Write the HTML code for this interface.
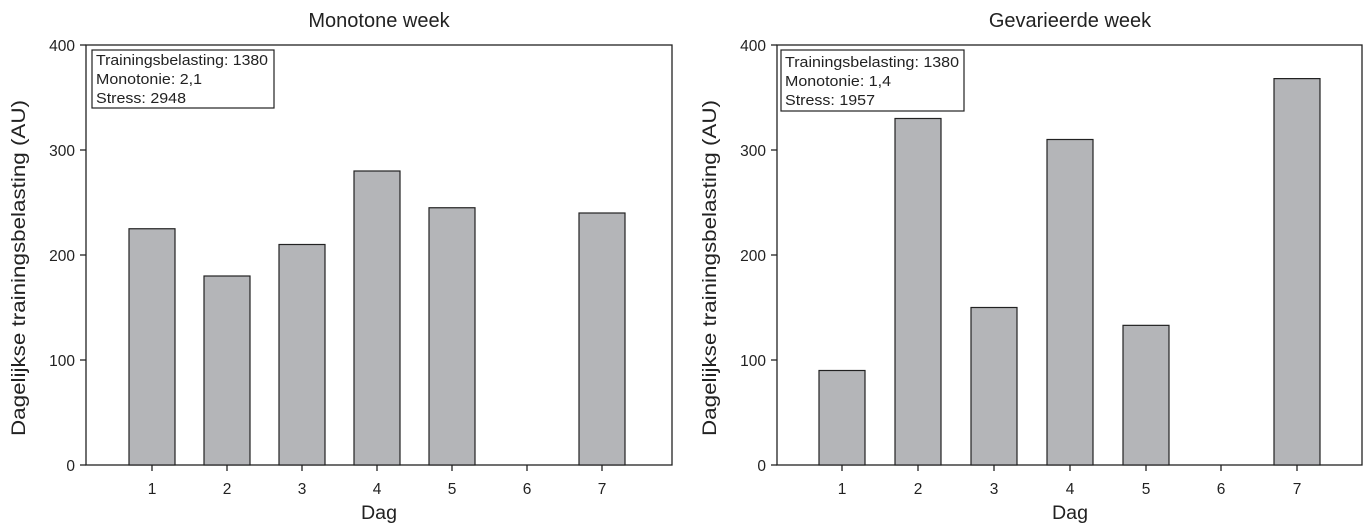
<!DOCTYPE html>
<html><head><meta charset="utf-8"><style>
body{margin:0;background:#fff}
svg{display:block}
text{font-family:"Liberation Sans",Arial,sans-serif;fill:#222}
</style></head><body>
<svg width="1363" height="526" viewBox="0 0 1363 526" xmlns="http://www.w3.org/2000/svg">
<g id="L">
<text x="379" y="27" font-size="20" text-anchor="middle">Monotone week</text>
<rect x="86" y="45" width="586" height="420" fill="none" stroke="#222" stroke-width="1.3"/>
<g stroke="#222" stroke-width="1.3">
<line x1="80" y1="45" x2="86" y2="45"/><line x1="80" y1="150" x2="86" y2="150"/><line x1="80" y1="255" x2="86" y2="255"/><line x1="80" y1="360" x2="86" y2="360"/><line x1="80" y1="465" x2="86" y2="465"/>
<line x1="152" y1="465" x2="152" y2="471"/><line x1="227" y1="465" x2="227" y2="471"/><line x1="302" y1="465" x2="302" y2="471"/><line x1="377" y1="465" x2="377" y2="471"/><line x1="452" y1="465" x2="452" y2="471"/><line x1="527" y1="465" x2="527" y2="471"/><line x1="602" y1="465" x2="602" y2="471"/>
</g>
<g font-size="15.5" text-anchor="end">
<text x="75" y="51">400</text><text x="75" y="156">300</text><text x="75" y="261">200</text><text x="75" y="366">100</text><text x="75" y="471">0</text>
</g>
<g font-size="15.5" text-anchor="middle">
<text x="152" y="494">1</text><text x="227" y="494">2</text><text x="302" y="494">3</text><text x="377" y="494">4</text><text x="452" y="494">5</text><text x="527" y="494">6</text><text x="602" y="494">7</text>
</g>
<text x="379" y="519" font-size="19" text-anchor="middle" textLength="36" lengthAdjust="spacingAndGlyphs">Dag</text>
<text transform="translate(25,268) rotate(-90)" font-size="19" text-anchor="middle" textLength="336" lengthAdjust="spacingAndGlyphs">Dagelijkse trainingsbelasting (AU)</text>
<g fill="#b4b5b8" stroke="#222" stroke-width="1.2">
<rect x="129" y="228.75" width="46" height="236.25"/>
<rect x="204" y="276" width="46" height="189"/>
<rect x="279" y="244.5" width="46" height="220.5"/>
<rect x="354" y="171" width="46" height="294"/>
<rect x="429" y="207.75" width="46" height="257.25"/>
<rect x="579" y="213" width="46" height="252"/>
</g>
<rect x="92" y="50" width="182" height="58" fill="#fff" stroke="#222" stroke-width="1.2"/>
<g font-size="15"><text x="96" y="65" textLength="172" lengthAdjust="spacingAndGlyphs">Trainingsbelasting: 1380</text><text x="96" y="84" textLength="106" lengthAdjust="spacingAndGlyphs">Monotonie: 2,1</text><text x="96" y="103" textLength="90" lengthAdjust="spacingAndGlyphs">Stress: 2948</text></g>
</g>
<g id="R">
<text x="1070" y="27" font-size="20" text-anchor="middle">Gevarieerde week</text>
<rect x="777" y="45" width="585" height="420" fill="none" stroke="#222" stroke-width="1.3"/>
<g stroke="#222" stroke-width="1.3">
<line x1="771" y1="45" x2="777" y2="45"/><line x1="771" y1="150" x2="777" y2="150"/><line x1="771" y1="255" x2="777" y2="255"/><line x1="771" y1="360" x2="777" y2="360"/><line x1="771" y1="465" x2="777" y2="465"/>
<line x1="842" y1="465" x2="842" y2="471"/><line x1="918" y1="465" x2="918" y2="471"/><line x1="994" y1="465" x2="994" y2="471"/><line x1="1070" y1="465" x2="1070" y2="471"/><line x1="1146" y1="465" x2="1146" y2="471"/><line x1="1221" y1="465" x2="1221" y2="471"/><line x1="1297" y1="465" x2="1297" y2="471"/>
</g>
<g font-size="15.5" text-anchor="end">
<text x="766" y="51">400</text><text x="766" y="156">300</text><text x="766" y="261">200</text><text x="766" y="366">100</text><text x="766" y="471">0</text>
</g>
<g font-size="15.5" text-anchor="middle">
<text x="842" y="494">1</text><text x="918" y="494">2</text><text x="994" y="494">3</text><text x="1070" y="494">4</text><text x="1146" y="494">5</text><text x="1221" y="494">6</text><text x="1297" y="494">7</text>
</g>
<text x="1070" y="519" font-size="19" text-anchor="middle" textLength="36" lengthAdjust="spacingAndGlyphs">Dag</text>
<text transform="translate(716,268) rotate(-90)" font-size="19" text-anchor="middle" textLength="336" lengthAdjust="spacingAndGlyphs">Dagelijkse trainingsbelasting (AU)</text>
<g fill="#b4b5b8" stroke="#222" stroke-width="1.2">
<rect x="819" y="370.5" width="46" height="94.5"/>
<rect x="895" y="118.5" width="46" height="346.5"/>
<rect x="971" y="307.5" width="46" height="157.5"/>
<rect x="1047" y="139.5" width="46" height="325.5"/>
<rect x="1123" y="325.35" width="46" height="139.65"/>
<rect x="1274" y="78.6" width="46" height="386.4"/>
</g>
<rect x="781" y="50" width="183" height="61" fill="#fff" stroke="#222" stroke-width="1.2"/>
<g font-size="15"><text x="785" y="67" textLength="174" lengthAdjust="spacingAndGlyphs">Trainingsbelasting: 1380</text><text x="785" y="86" textLength="106" lengthAdjust="spacingAndGlyphs">Monotonie: 1,4</text><text x="785" y="105" textLength="90" lengthAdjust="spacingAndGlyphs">Stress: 1957</text></g>
</g>
</svg>
</body></html>
